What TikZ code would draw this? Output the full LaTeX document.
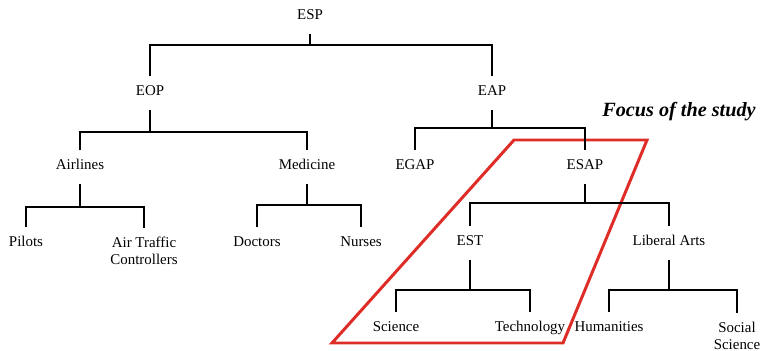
\documentclass[tikz,border=0pt]{standalone}
\usepackage{fontspec}
\setmainfont{Liberation Serif}
\definecolor{focusred}{RGB}{222,45,38}

\begin{document}
\begin{tikzpicture}[
  x=0.02cm, y=-0.02cm,
  tag/.style={font=\fontsize{8.5}{9.8}\selectfont, inner xsep=1pt, inner ysep=5pt, text height=6pt, text depth=2.5pt, anchor=base},
  tagtwo/.style={font=\fontsize{8.5}{9.8}\selectfont, inner xsep=1pt, inner ysep=5pt, align=center, anchor=north},
  branch/.style={line width=1.1pt},
  focus/.style={draw=focusred, line width=1.7pt, line join=miter}
]
\useasboundingbox (0,0) rectangle (761,351);

% focus area
\draw[focus] (514,140) -- (647,140) -- (563,343) -- (332,343) -- cycle;
\node[font=\fontsize{11.5}{12}\selectfont\bfseries\itshape, inner sep=0pt, anchor=base west] (focus) at (602,117) {Focus of the study};

% nodes
\node[tag] (esp) at (310,20) {ESP};
\node[tag] (eop) at (150,96) {EOP};
\node[tag] (eap) at (492,96) {EAP};
\node[tag] (airlines) at (80,170) {Airlines};
\node[tag] (medicine) at (307,170) {Medicine};
\node[tag] (egap) at (415,170) {EGAP};
\node[tag] (esap) at (585,170) {ESAP};
\node[tag] (pilots) at (26,247) {Pilots};
\node[tagtwo] (atc) at (144,227.7) {Air Traffic\\Controllers};
\node[tag] (doctors) at (257,247) {Doctors};
\node[tag] (nurses) at (361,247) {Nurses};
\node[tag] (est) at (470,246) {EST};
\node[tag] (liberal) at (669,246) {Liberal Arts};
\node[tag] (science) at (396,332) {Science};
\node[tag] (technology) at (530,332) {Technology};
\node[tag] (humanities) at (609,332) {Humanities};
\node[tagtwo] (social) at (737,312.7) {Social\\Science};

% bars
\coordinate (espbar) at (310,45);
\coordinate (eopbar) at (150,132);
\coordinate (eapbar) at (492,128);
\coordinate (airbar) at (80,207);
\coordinate (medbar) at (307,205);
\coordinate (esapbar) at (585,203);
\coordinate (estbar) at (470,290);
\coordinate (libbar) at (669,290);

\draw[branch] (esp) -- (espbar);
\draw[branch] (eop) |- (espbar) -| (eap);
\draw[branch] (eop) -- (eopbar);
\draw[branch] (airlines) |- (eopbar) -| (medicine);
\draw[branch] (eap) -- (eapbar);
\draw[branch] (egap) |- (eapbar) -| (esap);
\draw[branch] (airlines) -- (airbar);
\draw[branch] (pilots) |- (airbar) -| (atc);
\draw[branch] (medicine) -- (medbar);
\draw[branch] (doctors) |- (medbar) -| (nurses);
\draw[branch] (esap) -- (esapbar);
\draw[branch] (est) |- (esapbar) -| (liberal);
\draw[branch] (est) -- (estbar);
\draw[branch] (science) |- (estbar) -| (technology);
\draw[branch] (liberal) -- (libbar);
\draw[branch] (humanities) |- (libbar) -| (social);

\end{tikzpicture}
\end{document}
